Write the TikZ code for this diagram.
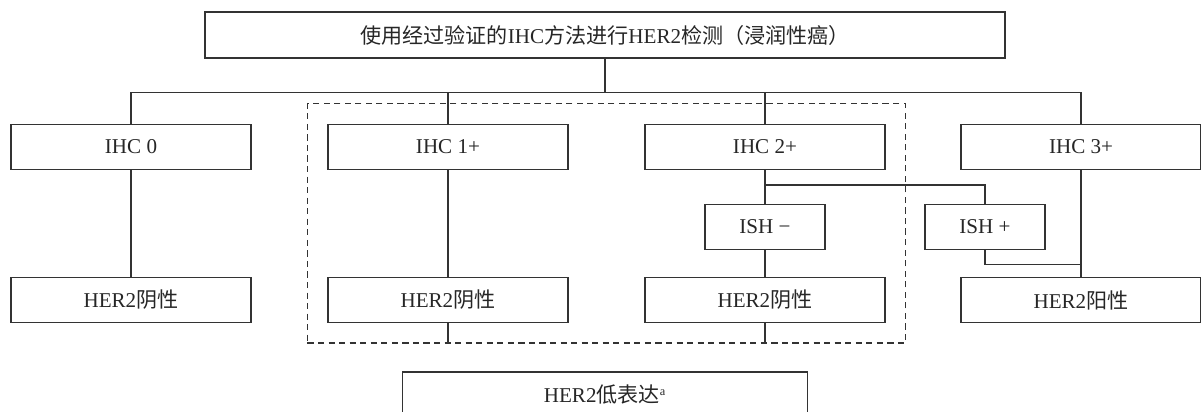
\documentclass[tikz,border=0pt]{standalone}
\usepackage{fontspec}
\setmainfont{Liberation Serif}
\newfontfamily\cjk{Noto Sans CJK SC}
\usepackage{tikz}
\usetikzlibrary{shapes,arrows,fit}
\tikzstyle{titlebox} = [rectangle,minimum width=16cm,minimum height=0.92cm,text centered,draw=black!80,line width=0.6pt]
\tikzstyle{box} = [rectangle,minimum width=4.8cm,minimum height=0.9cm,text centered,draw=black!80,line width=0.6pt]
\tikzstyle{ishbox} = [rectangle,minimum width=2.4cm,minimum height=0.9cm,text centered,draw=black!80,line width=0.6pt]
\tikzstyle{lowbox} = [rectangle,minimum width=8.1cm,minimum height=0.92cm,text centered,draw=black!80,line width=0.6pt]
\tikzstyle{dashgroup} = [rectangle,draw=black!80,dash pattern=on 3.5pt off 2.5pt,line width=0.6pt,inner sep=0.4cm]
\tikzstyle{link} = [draw=black!80,line width=0.6pt]

\begin{document}
\begin{tikzpicture}[node distance=6.34cm,font=\fontsize{12}{14}\selectfont,text=black!85]
\useasboundingbox (0,0) rectangle (24.02,-8.24);
\clip (0,0) rectangle (24.02,-8.24);
\node (top) [titlebox] at (12.1,-0.7) {{\cjk 使用经过验证的}IHC{\cjk 方法进行}HER2{\cjk 检测（浸润性癌）}};
\node (ihc1) [box,node distance=2.24cm,below of=top,xshift=-3.14cm] {IHC 1+};
\node (ihc0) [box,left of=ihc1] {IHC 0};
\node (ihc2) [box,right of=ihc1] {IHC 2+};
\node (ihc3) [box,right of=ihc2,xshift=-0.02cm] {IHC 3+};
\node (neg0) [box,node distance=3.06cm,below of=ihc0] {HER2{\cjk 阴性}};
\node (neg1) [box,node distance=3.06cm,below of=ihc1] {HER2{\cjk 阴性}};
\node (neg2) [box,node distance=3.06cm,below of=ihc2] {HER2{\cjk 阴性}};
\node (pos) [box,node distance=3.06cm,below of=ihc3] {HER2{\cjk 阳性}};
\node (ishneg) [ishbox,node distance=1.6cm,below of=ihc2] {ISH −};
\node (ishpos) [ishbox,node distance=4.4cm,right of=ishneg] {ISH +};
\node (lowgroup) [dashgroup,fit=(ihc1) (neg2)] {};
\node (low) [lowbox,node distance=7.2cm,below of=top] {HER2{\cjk 低表达}\textsuperscript{\scriptsize a}};

\coordinate (bus) at ([yshift=-0.68cm]top.south);
\coordinate (split) at ([yshift=-0.3cm]ihc2.south);
\draw [link] (top.south) -- (bus);
\draw [link] (ihc0.north) |- (ihc3.north |- bus) -- (ihc3.north);
\draw [link] (ihc1.north) -- (ihc1.north |- bus);
\draw [link] (ihc2.north) -- (ihc2.north |- bus);
\draw [link] (ihc0) -- (neg0);
\draw [link] (ihc1) -- (neg1);
\draw [link] (ihc2) -- (ishneg);
\draw [link] (ishneg) -- (neg2);
\draw [link] (split) -| (ishpos.north);
\draw [link] (ihc3) -- (pos);
\draw [link] (ishpos.south) |- ([yshift=0.24cm]pos.north);
\draw [link] (neg1.south) -- (neg1.south |- lowgroup.south);
\draw [link] (neg2.south) -- (neg2.south |- lowgroup.south);
\end{tikzpicture}
\end{document}
